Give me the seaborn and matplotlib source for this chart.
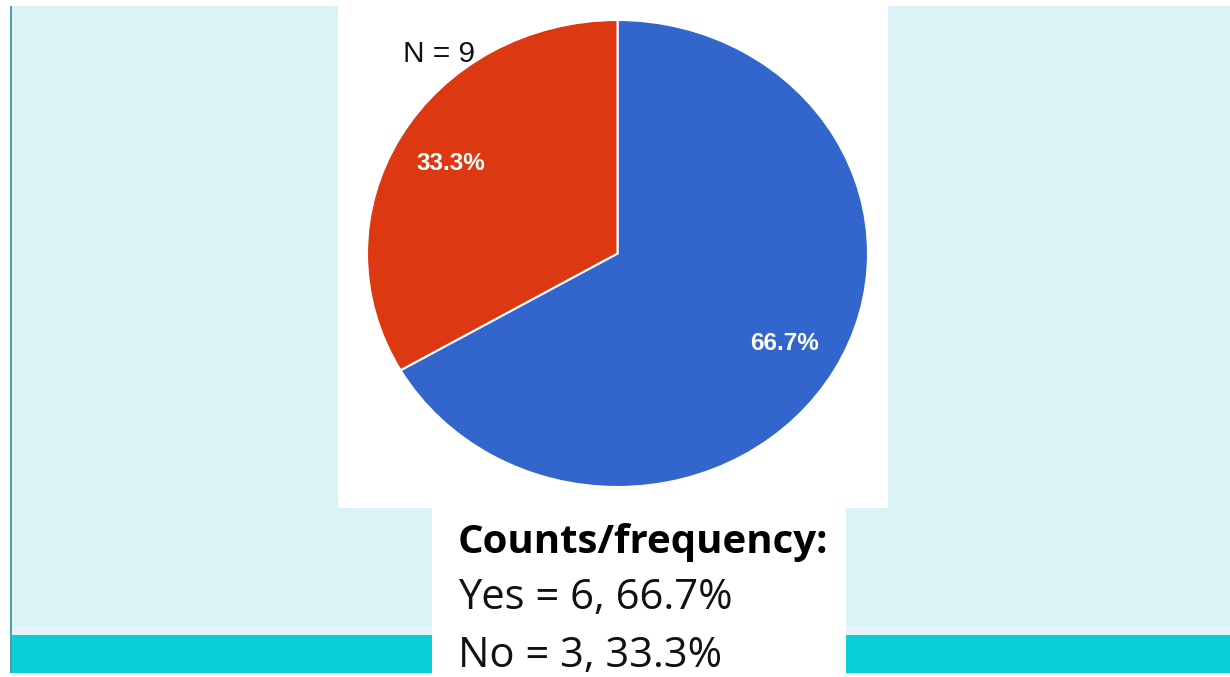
import matplotlib
matplotlib.use("Agg")
import matplotlib.pyplot as plt
from matplotlib.patches import Rectangle
import seaborn as sns

categories = ["Yes", "No"]
counts = [6, 3]
slice_colors = ["#3366CC", "#DC3912"]
n_label = "N = 9"
heading = "Counts/frequency:"
lines = ["Yes = 6, 66.7%", "No = 3, 33.3%"]

sns.set_theme(style="white")
plt.rcParams["font.family"] = ["Liberation Sans", "DejaVu Sans"]

W, H = 1230, 677
fig = plt.figure(figsize=(W / 100, H / 100), dpi=100)
fig.patch.set_facecolor("white")

# background decoration axes in pixel coordinates
bg = fig.add_axes([0, 0, 1, 1])
bg.set_xlim(0, W)
bg.set_ylim(H, 0)
bg.axis("off")
bg.add_patch(Rectangle((12, 6), W - 12, 620, color="#DAF3F7", lw=0))
bg.add_patch(Rectangle((12, 626), W - 12, 9, color="#E6F6F8", lw=0))
bg.add_patch(Rectangle((12, 635), W - 12, 38, color="#0BCFD8", lw=0))
bg.add_patch(Rectangle((9.5, 6), 2.5, 667, color="#4E9FA3", lw=0))
bg.add_patch(Rectangle((338, 0), 550, 508, color="white", lw=0))
bg.add_patch(Rectangle((432, 508), 414, 169, color="white", lw=0))

# pie axes
cx, cy, rx, ry = 617.5, 253.5, 250.5, 233.5
ax = fig.add_axes([(cx - rx) / W, (H - cy - ry) / H, 2 * rx / W, 2 * ry / H])
wedges, texts, autotexts = ax.pie(
    counts, labels=None, colors=slice_colors, startangle=90, counterclock=False,
    autopct="%.1f%%", pctdistance=0.77,
    wedgeprops=dict(edgecolor="white", linewidth=1.5),
    textprops=dict(color="white", fontsize=17.5, fontweight="bold"),
)
ax.set_aspect("auto")
ax.set_xlim(-1, 1)
ax.set_ylim(-1, 1)
ax.axis("off")

fig.text(403 / W, 1 - 62 / H, n_label, fontsize=21.5, color="#111111", va="baseline", ha="left")

box_font = ["Open Sans", "DejaVu Sans"]
fig.text(458 / W, 1 - 553 / H, heading, fontsize=29, fontweight="bold",
         family=box_font, color="black", va="baseline", ha="left")
fig.text(458 / W, 1 - 609 / H, lines[0], fontsize=30,
         family=box_font, color="#111111", va="baseline", ha="left")
fig.text(458 / W, 1 - 667 / H, lines[1], fontsize=30,
         family=box_font, color="#111111", va="baseline", ha="left")

fig.savefig("out.png", dpi=100)
